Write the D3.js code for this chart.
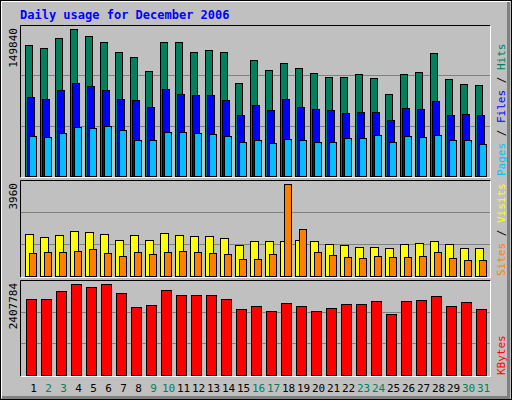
<!DOCTYPE html>
<html><head><meta charset="utf-8">
<script src="https://cdn.jsdelivr.net/npm/d3@7"></script>
<style>body{margin:0;background:#fff}svg text{font-family:"DejaVu Sans Mono",monospace}</style>
</head><body><svg width="512" height="400"></svg>
<script>
const days = d3.range(1, 32);
const weekend = [2, 3, 9, 10, 16, 17, 23, 24, 30, 31];
const hits = [133500,130500,140700,149840,142700,136600,126400,121300,107000,136600,136600,126400,128400,126400,94800,118200,108000,115200,110100,105000,100900,100900,104000,99900,83600,104000,106000,125400,98900,93800,92800];
const files = [80500,78500,87700,94800,91700,87700,78500,77500,70300,88700,83600,82600,82600,77500,62200,72400,67300,78500,70300,68300,67300,64200,65200,65200,57100,69300,68300,76400,62200,63200,62200];
const pages = [40800,39700,43800,49900,48900,51000,46900,36700,36700,44800,44800,43800,42800,40800,34700,36700,33600,37700,36700,34700,34700,38700,38700,41800,34700,40800,39700,41800,36700,36700,32600];
const visits = [1794,1665,1751,1923,1880,1794,1535,1751,1535,1837,1751,1708,1708,1622,1320,1492,1492,1492,1535,1492,1363,1320,1234,1234,1191,1363,1406,1492,1363,1191,1191];
const sites = [976,1019,1019,1062,1148,976,847,1019,933,1019,1062,1019,976,933,718,718,933,3960,2009,1019,890,804,761,847,804,804,847,1019,761,674,674];
const kbytes = [2004000,2004000,2215000,2407784,2320600,2407784,2162300,1793200,1845900,2241500,2109600,2109600,2109600,2004000,1740400,1819500,1687700,1898600,1819500,1687700,1766800,1872300,1872300,1951400,1608600,1951400,1977800,2083200,1819500,1925000,1740400];

const svg = d3.select('svg');
// background with bevel
svg.append('rect').attr('x',0).attr('y',0).attr('width',512).attr('height',400).attr('fill','#c0c0c0');
svg.append('path').attr('d','M1.5,398V1.5H510').attr('stroke','#fff').attr('fill','none');
svg.append('path').attr('d','M2,397.5H508.5V2').attr('stroke','#808080').attr('stroke-width',3).attr('fill','none');
svg.append('rect').attr('x',0.5).attr('y',0.5).attr('width',511).attr('height',399).attr('fill','none').attr('stroke','#000');

svg.append('text').attr('x',20).attr('y',19).attr('fill','#0000ff').attr('font-weight','bold')
  .attr('font-size',12).text('Daily usage for December 2006');

const x = d3.scaleLinear().domain([1, 32]).range([25, 490]);

function panel(top, bottom, max, label, series, legend) {
  svg.append('rect').attr('x',20.5).attr('y',top+0.5).attr('width',470).attr('height',bottom-top).attr('fill','#c0c0c0');
  svg.append('path').attr('d',`M20.5,${bottom+0.5}V${top+0.5}H490.5`).attr('stroke','#000').attr('fill','none');
  svg.append('path').attr('d',`M20.5,${bottom+0.5}H490.5V${top+0.5}`).attr('stroke','#fff').attr('fill','none');
  const y = d3.scaleLinear().domain([0, max]).range([bottom - 1, top + 4]);
  const step = (bottom - 1 - top) / 3;
  [1, 2].forEach(k => svg.append('line').attr('x1',21).attr('x2',490)
    .attr('y1',Math.round(bottom - 1 - k*step)+0.5).attr('y2',Math.round(bottom - 1 - k*step)+0.5).attr('stroke','#808080'));
  series.forEach(s => {
    svg.append('g').selectAll('rect').data(s.data).enter().append('rect')
      .attr('x', (d, i) => x(days[i]) + s.off + 0.5)
      .attr('y', d => Math.round(y(d)) + 0.5)
      .attr('width', s.w)
      .attr('height', d => Math.round(y(0)) - Math.round(y(d)))
      .attr('fill', s.color).attr('stroke', '#000');
  });
  svg.append('text').attr('transform',`translate(17,${top+3}) rotate(-90)`).attr('text-anchor','end')
    .attr('font-size',11).attr('fill','#000').text(label);
  const t = svg.append('text').attr('transform',`translate(505,${bottom-1}) rotate(-90)`).attr('font-size',11);
  legend.forEach((l, i) => {
    if (i) t.append('tspan').attr('fill','#000').text(' / ');
    t.append('tspan').attr('fill', l[1]).text(l[0]);
  });
}

panel(25, 177, 149840, '149840', [
  {data: hits, off: 0, w: 7, color: '#00805c'},
  {data: files, off: 2, w: 7, color: '#0000ff'},
  {data: pages, off: 4, w: 7, color: '#00c0ff'}
], [['Pages','#00c0ff'],['Files','#0000ff'],['Hits','#00805c']]);

panel(180, 277, 3960, '3960', [
  {data: visits, off: 0, w: 8, color: '#ffff00'},
  {data: sites, off: 4, w: 7, color: '#ff8000'}
], [['Sites','#ff8000'],['Visits','#ffff00']]);

panel(280, 376, 2407784, '2407784', [
  {data: kbytes, off: 1, w: 10, color: '#ff0000'}
], [['KBytes','#ff0000']]);

svg.append('g').selectAll('text').data(days).enter().append('text')
  .attr('x', d => x(d) + 8.5).attr('y', 392).attr('text-anchor','middle').attr('font-size',11)
  .attr('fill', d => weekend.includes(d) ? '#00805c' : '#000').text(d => d);
</script></body></html>
